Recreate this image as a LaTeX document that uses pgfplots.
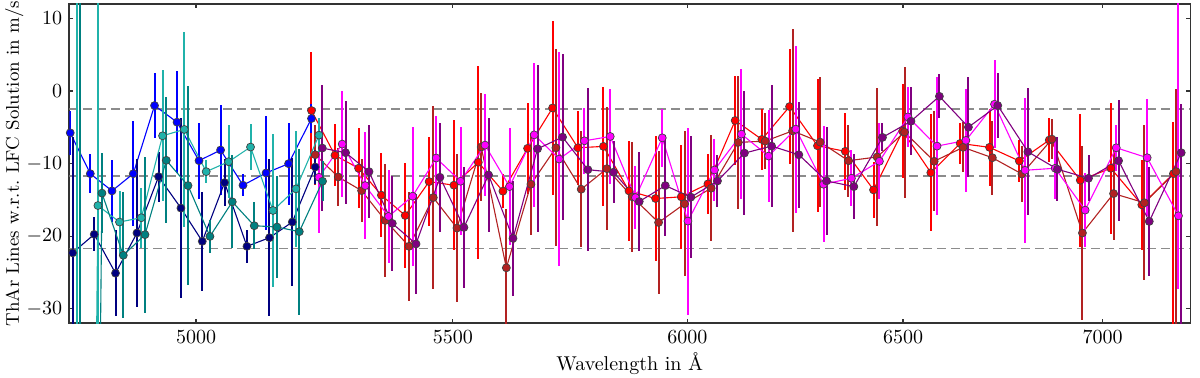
\documentclass[border=0pt]{standalone}
\usepackage{pgfplots}
\pgfplotsset{compat=1.18}
\usepackage{pgfplotstable}
\definecolor{cNavy}{HTML}{000080}
\definecolor{cLT}{HTML}{20B2AA}
\definecolor{cTeal}{HTML}{008080}
\definecolor{cFire}{HTML}{B22222}
\definecolor{cPurple}{HTML}{800080}
\definecolor{cMag}{HTML}{FF00FF}
\definecolor{cBlue}{HTML}{0000FF}
\definecolor{cRed}{HTML}{FF0000}

\pgfplotstableread{
x y e
4772.1 -5.76 3.0
4807.7 -11.39 2.70
4846.6 -13.76 4.25
4885.0 -11.39 7.27
4923.8 -2.00 4.48
4964.9 -4.29 7.04
5005.6 -9.60 5.21
5045.9 -8.13 6.22
5088.0 -12.98 1.5
5131.6 -11.29 7.86
5174.8 -10.01 5.67
5219.1 -3.79 2.0
}\dataB
\pgfplotstableread{
x y e
4776.2 -22.30 16.0
4814.8 -19.75 2.33
4853.0 -25.10 5.94
4891.7 -19.56 10.24
4931.1 -11.80 3.43
4972.2 -16.13 12.35
5011.7 -20.71 6.86
5053.3 -12.62 3.2
5095.5 -21.40 2.29
5138.4 -20.21 10.84
5181.9 -18.05 8.82
5226.3 -10.47 2.29
}\dataN
\pgfplotstableread{
x y e
4784.0 -300 330
4821.4 -15.78 30
4860.2 -18.05 4.34
4899.5 -17.46 4.12
4938.4 -6.17 9.05
4978.3 -5.29 13.40
5019.1 -11.11 1.60
5060.8 -9.74 5.03
5102.3 -7.72 3.11
5144.9 -16.46 10.52
5189.0 -13.48 8.0
5233.5 -6.08 2.3
}\dataLT
\pgfplotstableread{
x y e
4789.9 -300 330
4828.6 -14.07 5.5
4866.9 -22.63 8.69
4906.3 -19.79 10.75
4945.2 -9.55 8.69
4985.2 -13.03 13.72
5026.0 -20.03 2.29
5067.8 -15.27 6.40
5109.3 -18.56 3.2
5152.6 -18.74 7.09
5195.4 -19.38 11.43
5240.5 -12.43 2.74
}\dataDT
\pgfplotstableread{
x y ep em
5219.1 -2.69 8.05 8.05
5264.7 -8.86 4.25 4.25
5311.0 -10.64 5.49 5.49
5355.9 -14.35 5.76 5.76
5403.8 -17.15 7.27 7.27
5452.1 -12.48 6.17 6.17
5502.3 -12.98 8.92 8.92
5552.2 -9.82 13.31 13.31
5603.3 -13.80 2.33 2.33
5654.7 -7.90 6.31 6.31
5707.4 -2.33 11.93 11.93
5761.4 -7.82 5.08 5.08
5816.4 -7.63 8.23 8.23
5871.5 -13.76 6.86 6.86
5929.7 -14.81 8.64 8.64
5986.5 -14.58 7.13 7.13
6046.1 -12.80 4.12 4.12
6107.7 -4.06 6.17 6.17
6168.5 -6.67 4.25 4.25
6232.0 -2.14 7.96 7.96
6297.1 -7.54 9.19 9.19
6362.2 -8.31 5.35 5.35
6429.3 -13.62 3.84 3.84
6499.3 -5.53 6.45 6.45
6567.7 -11.25 8.09 8.09
6639.5 -7.22 2.88 2.88
6712.1 -7.76 5.35 5.35
6786.5 -9.64 2.88 2.88
6862.4 -6.76 3.02 3.02
6941.8 -12.29 9.19 9.19
7021.4 -10.64 9.05 9.05
7102.6 -15.68 6.17 6.17
7186.4 -11.39 7.13 25
}\dataR
\pgfplotstableread{
x y ep em
5226.3 -8.78 4.12 4.12
5271.1 -11.84 3.98 3.98
5316.9 -13.72 4.39 4.39
5363.8 -17.83 7.82 7.82
5411.2 -21.40 7.54 7.54
5460.2 -14.68 12.62 12.62
5508.5 -18.88 10.15 10.15
5558.3 -7.72 7.41 7.41
5610.2 -24.36 8.09 8.09
5661.8 -12.84 7.0 7.0
5714.6 -7.82 13.58 13.58
5768.5 -13.53 7.96 7.96
5823.7 -10.70 8.5 8.5
5878.7 -14.58 7.54 7.54
5936.3 -18.11 9.88 9.88
5993.9 -15.54 10.01 10.01
6053.5 -13.39 7.27 7.27
6114.5 -7.08 9.19 9.19
6176.1 -6.90 3.84 3.84
6238.9 -5.49 13.99 13.99
6303.4 -7.04 8.92 8.92
6369.9 -9.60 4.94 4.94
6437.4 -9.09 9.47 9.47
6503.7 -5.67 9.05 9.05
6575.8 -9.68 6.86 6.86
6646.9 -7.76 3.43 3.43
6719.6 -9.19 5.08 5.08
6793.3 -11.43 3.84 3.84
6869.3 -6.63 2.74 2.74
6947.8 -19.56 11.93 11.93
7028.1 -14.13 6.45 6.45
7109.4 -15.40 10.7 10.7
7193.6 -11.11 11.4 25
}\dataF
\pgfplotstableread{
x y ep em
5233.5 -11.88 7.68 7.68
5278.9 -7.31 7.27 7.27
5324.2 -13.03 7.41 7.41
5370.4 -17.28 6.45 6.45
5418.4 -14.49 9.6 9.6
5466.3 -9.23 5.76 5.76
5515.8 -12.43 7.41 7.41
5566.0 -7.45 7.0 7.0
5617.0 -13.17 8.09 8.09
5668.7 -6.04 9.88 9.88
5721.6 -9.37 14.68 14.68
5775.5 -6.86 4.53 4.53
5830.9 -6.26 6.58 6.58
5885.9 -14.68 4.39 4.39
5944.5 -6.45 3.98 3.98
6001.4 -17.92 12.89 12.89
6061.0 -10.88 4.25 4.25
6122.0 -5.94 8.92 8.92
6183.6 -8.96 6.31 6.31
6246.8 -5.25 11.52 11.52
6311.1 -12.84 7.96 7.96
6377.0 -12.02 3.84 3.84
6443.6 -9.68 5.21 5.21
6511.9 -3.57 4.12 4.12
6582.3 -7.59 9.47 9.47
6653.6 -6.80 7.13 7.13
6724.6 -1.82 6.04 6.04
6801.6 -10.92 10.01 10.01
6877.7 -10.64 4.25 4.25
6954.7 -16.41 5.08 5.08
7035.2 -7.82 3.16 3.16
7116.6 -9.19 8.09 8.09
7199.7 -17.19 30 10.15
}\dataM
\pgfplotstableread{
x y ep em
5239.9 -7.86 8.74 8.74
5285.4 -8.50 7.13 7.13
5331.5 -11.11 6.45 6.45
5377.8 -18.24 6.58 6.58
5425.3 -21.07 6.86 6.86
5473.8 -11.88 7.54 7.54
5522.8 -18.79 8.37 8.37
5573.4 -11.56 7.82 7.82
5624.1 -20.30 7.96 7.96
5675.7 -7.96 11.52 11.52
5728.6 -6.35 11.39 11.39
5782.8 -10.84 11.25 11.25
5838.0 -11.19 4.25 4.25
5894.0 -15.23 6.86 6.86
5951.1 -13.03 7.0 7.0
6008.1 -14.62 8.37 8.37
6067.7 -12.39 3.57 3.57
6128.8 -8.55 8.5 8.5
6190.5 -7.59 8.37 8.37
6253.8 -8.78 7.27 7.27
6318.2 -12.39 7.41 7.41
6382.7 -13.17 4.53 4.53
6450.8 -6.39 1.92 1.92
6519.1 -4.16 4.66 4.66
6588.7 -0.73 3.02 3.02
6660.0 -4.98 6.86 6.86
6732.5 -2.00 4.53 4.53
6808.4 -8.37 8.78 8.78
6883.6 -10.78 4.39 4.39
6963.2 -12.02 3.16 3.16
7041.2 -9.60 8.37 8.37
7122.6 -17.97 7.54 7.54
7206.9 -8.50 6.78 25
}\dataP

\pgfplotsset{
  ser/.style={color=#1, line width=0.55pt, mark=*, mark size=2pt,
    mark options={fill=#1, draw=black!75, line width=0.35pt, solid},
    error bars/.cd, y dir=both, y explicit, error mark=none,
    error bar style={line width=1pt, color=#1}},
}

\begin{document}
\begin{tikzpicture}
\begin{axis}[
  at={(0,0)}, anchor=south west,
  scale only axis, width=560.5pt, height=159.65pt,
  xmode=log, xmin=4770.4, xmax=7231, ymin=-32, ymax=12,
  xtick={5000,5500,6000,6500,7000},
  xticklabels={5000,5500,6000,6500,7000},
  minor xtick={},
  ytick={-30,-20,-10,0,10},
  tick align=inside, major tick length=2pt,
  axis line style={black!80, line width=0.8pt},
  tick style={black!80, line width=0.6pt},
  xlabel={Wavelength in \AA},
  ylabel={ThAr Lines w.r.t.\ LFC Solution in m/s},
  xlabel style={at={(axis description cs:0.5,0)}, yshift=-20.2pt, anchor=center},
  ylabel style={at={(axis description cs:-0.0491,0.5)}, anchor=center,
    font=\fontsize{9.2}{11}\selectfont},
]
\addplot[black!45, line width=0.6pt, dash pattern=on 4.5pt off 2.5pt, forget plot] coordinates {(4770.4,-2.47) (7231,-2.47)};
\addplot[black!45, line width=0.6pt, dash pattern=on 4.5pt off 2.5pt, forget plot] coordinates {(4770.4,-11.70) (7231,-11.70)};
\addplot[black!45, line width=0.6pt, dash pattern=on 4.5pt off 2.5pt, forget plot] coordinates {(4770.4,-21.71) (7231,-21.71)};

\addplot[ser=cRed] table[x=x, y=y, y error plus=ep, y error minus=em] {\dataR};
\addplot[ser=cFire] table[x=x, y=y, y error plus=ep, y error minus=em] {\dataF};
\addplot[ser=cMag] table[x=x, y=y, y error plus=ep, y error minus=em] {\dataM};
\addplot[ser=cPurple] table[x=x, y=y, y error plus=ep, y error minus=em] {\dataP};

\addplot[ser=cBlue] table[x=x, y=y, y error=e] {\dataB};
\addplot[ser=cNavy] table[x=x, y=y, y error=e] {\dataN};
\addplot[ser=cLT] table[x=x, y=y, y error=e] {\dataLT};
\addplot[ser=cTeal] table[x=x, y=y, y error=e] {\dataDT};
\end{axis}
\pgfresetboundingbox
\useasboundingbox (-34.5pt,-26.85pt) rectangle (565.5pt,161.65pt);
\end{tikzpicture}
\end{document}
